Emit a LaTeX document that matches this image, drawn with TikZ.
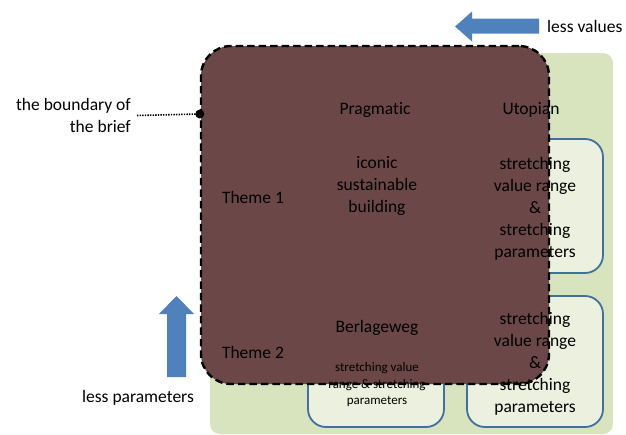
\documentclass[tikz,border=0pt]{standalone}
\usepackage{fontspec}
\setmainfont{Carlito}[Ligatures={NoCommon}]
\definecolor{fieldgreen}{HTML}{D7E4BD}
\definecolor{cellfill}{HTML}{EBF1DE}
\definecolor{cellline}{HTML}{41709F}
\definecolor{briefbrown}{HTML}{6B4847}
\definecolor{arrowblue}{HTML}{4F81BD}
\begin{document}
\begin{tikzpicture}[x=1pt,y=-1pt,
  cellbox/.style={draw=cellline, fill=cellfill, line width=1.8pt,
    rounded corners=18pt, minimum width=136pt, inner sep=0pt},
  briefbox/.style={draw=black, fill=briefbrown, line width=2.4pt,
    dash pattern=on 7.5pt off 4pt, rounded corners=30pt,
    minimum width=348pt, minimum height=338pt, inner sep=0pt},
  lbl/.style={font=\fontsize{17.5}{22}\selectfont, align=center, inner sep=0pt},
  smalllbl/.style={font=\fontsize{13}{16.5}\selectfont, align=center, inner sep=0pt},
  bigarrow/.style={fill=arrowblue, draw=none},
  dotline/.style={line width=1.6pt, dash pattern=on 1.4pt off 1.2pt}]
\useasboundingbox (0,0) rectangle (626,434);

% green field behind the cells
\fill[fieldgreen, rounded corners=10pt] (210,53) rectangle (613,434);

% rounded cells
\node[cellbox, minimum height=134pt] (cellA) at (535,206) {};
\node[cellbox, minimum height=131pt] (cellB) at (535,361.5) {};
\node[cellbox, minimum height=131pt] (cellC) at (376,361.5) {};

% the brief area
\node[briefbox] (brief) at (375,215) {};
\coordinate (pin) at (brief.west |- 0,114);
\fill (pin) circle (4.5pt);

% labels
\node[lbl] (prag) at (375,110) {Pragmatic};
\node[lbl] (utop) at (531,110) {Utopian};
\node[lbl] (iconic) at (377,186) {iconic\\sustainable\\building};
\node[lbl] (th1) at (253,197) {Theme 1};
\node[lbl] (txtA) at (535,208.5) {stretching\\value range\\\&\\stretching\\parameters};
\node[lbl] (berl) at (377,328) {Berlageweg};
\node[lbl] (th2) at (253,352) {Theme 2};
\node[smalllbl] (txtC) at (377,385) {stretching value\\range \& stretching\\parameters};
\node[lbl] (txtB) at (535,364) {stretching\\value range\\\&\\stretching\\parameters};

% boundary note
\node[lbl, align=right, anchor=east] (note) at (131,115.5) {the boundary of\\the brief};
\draw[dotline] ([xshift=6pt]note.east) -- (pin);

% direction arrows
\fill[bigarrow] (539,18.5) -- (472,18.5) -- (472,11.5) -- (455,26.5) -- (472,41.5)
  -- (472,33.5) -- (539,33.5) -- cycle;
\node[lbl, anchor=west] (lessval) at (547,26.5) {less values};

\fill[bigarrow] (167,377) -- (167,314) -- (159,314) -- (176.5,296) -- (194,314)
  -- (186,314) -- (186,377) -- cycle;
\node[lbl] (lesspar) at (138,398) {less parameters};
\end{tikzpicture}
\end{document}
